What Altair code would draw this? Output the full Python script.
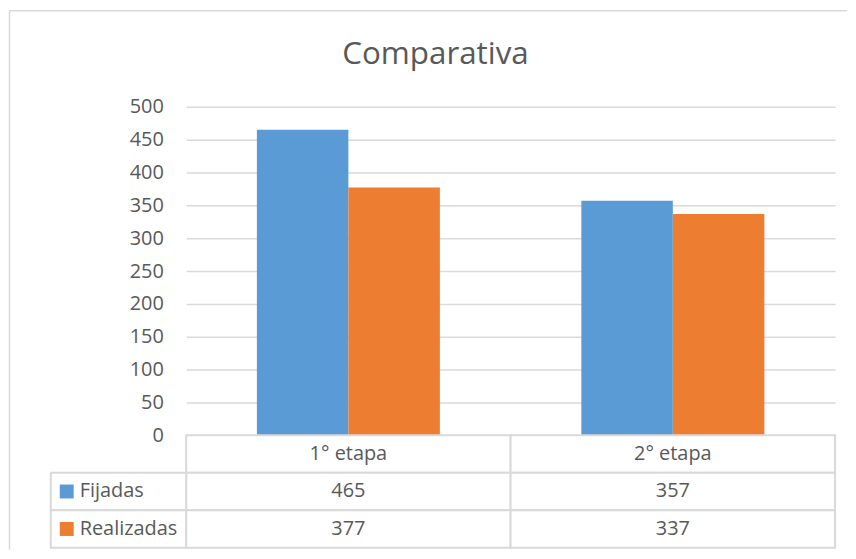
import altair as alt
import pandas as pd

# ---- data ----
categories = ["1° etapa", "2° etapa"]
series = ["Fijadas", "Realizadas"]
fijadas = [465, 357]
realizadas = [377, 337]
colors = ["#5B9BD5", "#ED7D31"]
title_text = "Comparativa"
y_ticks = list(range(0, 501, 50))

FONT = "Open Sans"
TXT = "#595959"
GRID = "#D9D9D9"

values = {"Fijadas": fijadas, "Realizadas": realizadas}
bars = pd.DataFrame(
    [{"cat": c, "serie": s, "valor": values[s][i]} for s in series for i, c in enumerate(categories)]
)

rows_domain = ["header"] + series
cells = []
for i, c in enumerate(categories):
    cells.append({"cat": c, "row": "header", "label": c})
    for s in series:
        cells.append({"cat": c, "row": s, "label": str(values[s][i])})
cells = pd.DataFrame(cells)
legend_df = pd.DataFrame({"row": series, "serie": series})

color_scale = alt.Scale(domain=series, range=colors)

W, H = 652, 330

# ---- top: bar chart ----
bar_layer = alt.Chart(bars).mark_bar().encode(
    x=alt.X("cat:N", sort=categories, axis=None,
            scale=alt.Scale(paddingInner=0.436, paddingOuter=0.218)),
    xOffset=alt.XOffset("serie:N", sort=series, scale=alt.Scale(paddingInner=0)),
    y=alt.Y("valor:Q", scale=alt.Scale(domain=[0, 500], nice=False),
            axis=alt.Axis(values=y_ticks, title=None, domain=False, ticks=False,
                          labelPadding=23, labelFontSize=20, labelFont=FONT,
                          labelColor=TXT, gridColor=GRID, gridWidth=1.5)),
    color=alt.Color("serie:N", scale=color_scale, legend=None),
)

title_layer = alt.Chart(pd.DataFrame({"t": [title_text]})).mark_text(
    font=FONT, fontSize=31.5, color=TXT, baseline="alphabetic", align="center"
).encode(x=alt.value(250.5), y=alt.value(-43.3), text="t:N")

border_v = alt.Chart(pd.DataFrame({"a": [0]})).mark_rule(color=GRID, strokeWidth=1.5).encode(
    x=alt.value(-177.5), y=alt.value(-97), y2=alt.value(445))
border_h = alt.Chart(pd.DataFrame({"a": [0]})).mark_rule(color=GRID, strokeWidth=1.5).encode(
    x=alt.value(-178), x2=alt.value(664), y=alt.value(-96.5))

top = alt.layer(bar_layer, title_layer, border_v, border_h).properties(width=W, height=H)

# ---- bottom: data table ----
x_tab = alt.X("cat:N", sort=categories, axis=None,
              scale=alt.Scale(paddingInner=0, paddingOuter=0))
y_tab = alt.Y("row:N", axis=None, scale=alt.Scale(domain=rows_domain, paddingInner=0, paddingOuter=0))

cell_rects = alt.Chart(cells).mark_rect(fill="white", stroke=GRID, strokeWidth=2).encode(
    x=x_tab, y=y_tab)
cell_text = alt.Chart(cells).mark_text(font=FONT, fontSize=20, color=TXT).encode(
    x=x_tab, y=y_tab, text="label:N")
left_rects = alt.Chart(legend_df).mark_rect(fill="white", stroke=GRID, strokeWidth=2).encode(
    x=alt.value(-136), x2=alt.value(0), y=y_tab)
squares = alt.Chart(legend_df).mark_square(size=196, filled=True, opacity=1).encode(
    x=alt.value(-120), y=y_tab,
    color=alt.Color("serie:N", scale=color_scale, legend=None))
legend_text = alt.Chart(legend_df).mark_text(font=FONT, fontSize=20, color=TXT, align="left").encode(
    x=alt.value(-107), y=y_tab, text="serie:N")

bottom = alt.layer(cell_rects, cell_text, left_rects, squares, legend_text).properties(
    width=W, height=113)

chart = alt.vconcat(top, bottom, spacing=0, bounds="flush").resolve_scale(
    x="independent", y="independent"
).properties(padding=0).configure_view(stroke=None)

chart.save("out.html", embed_options={"renderer": "svg", "actions": False})
